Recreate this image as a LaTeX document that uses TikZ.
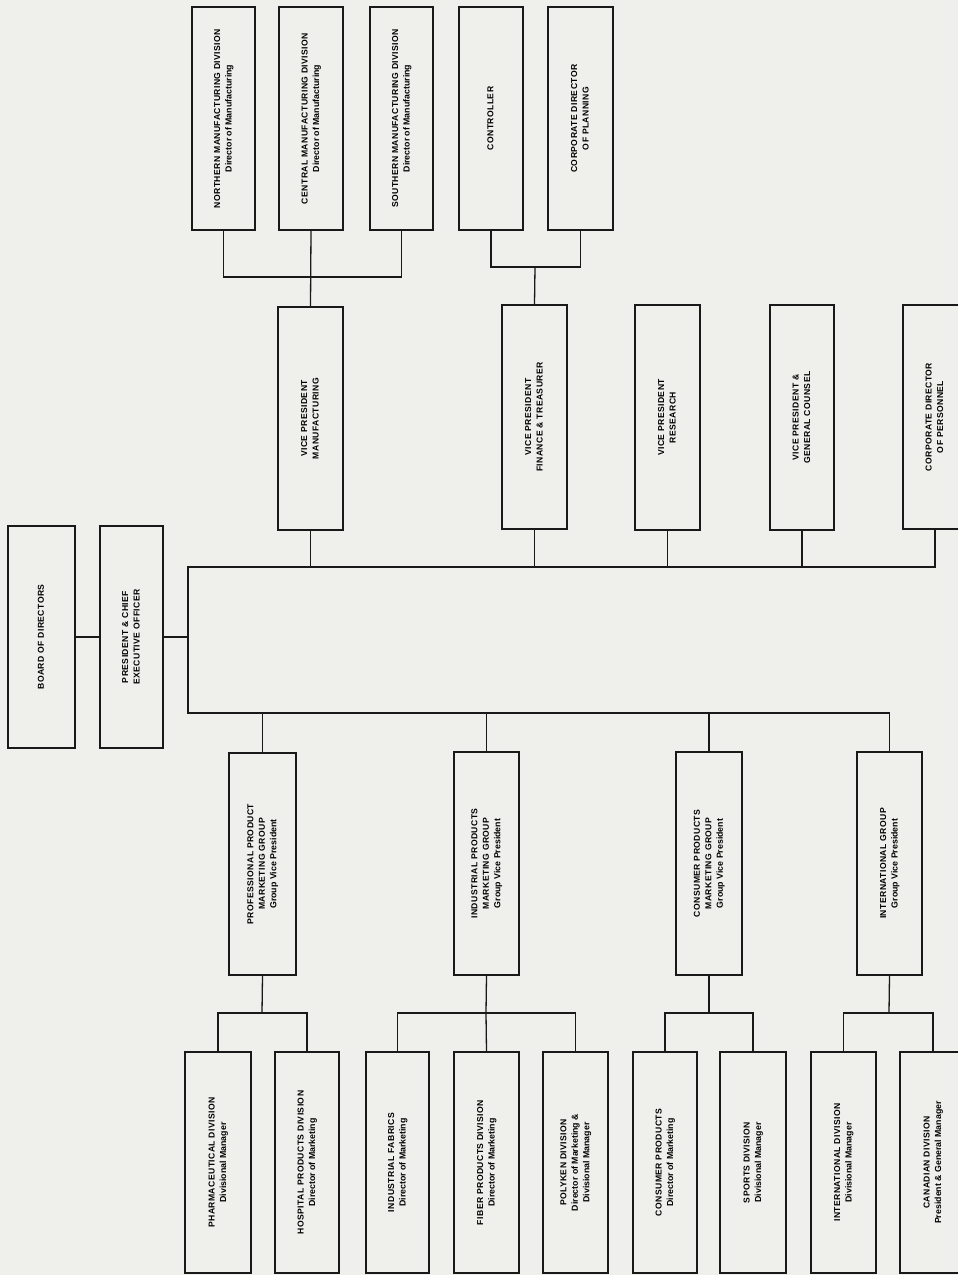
\documentclass[tikz,border=0pt]{standalone}
\usepackage{fontspec}
\setmainfont{Liberation Sans}
\newfontfamily\ttlfont{Liberation Sans}[LetterSpace=5]
\definecolor{paper}{RGB}{239,239,236}
\definecolor{ink}{RGB}{25,25,25}
\tikzset{
  orgbox/.style={draw=ink, line width=1.3pt, rectangle, inner sep=0pt},
  link/.style={draw=ink, line width=1.3pt},
}
\newcommand{\orgtext}[1]{\rotatebox{90}{\fontsize{8.6}{11.5}\selectfont\begin{tabular}{@{}c@{}}#1\end{tabular}}}
\newcommand{\Ttl}[1]{{\ttlfont\bfseries\fontsize{8.6}{11.5}\selectfont #1}}
\newcommand{\Sbt}[1]{{\bfseries\fontsize{8.8}{11.5}\selectfont #1}}
\newcommand{\bx}[6]{\node[orgbox, minimum width={(#4)-(#2)}, minimum height={(#5)-(#3)}] (#1) at ({((#2)+(#4))/2},{((#3)+(#5))/2}) {\orgtext{#6}};}
\begin{document}
\begin{tikzpicture}[x=1pt,y=-1pt]
\fill[paper] (0,0) rectangle (958,1275);
\useasboundingbox (0,0) rectangle (958,1275);

% left
\bx{board}{8}{526}{75}{748}{\Ttl{BOARD OF DIRECTORS}}
\bx{pres}{100}{526}{163}{748}{\Ttl{PRESIDENT \& CHIEF}\\\Ttl{EXECUTIVE OFFICER}}

% top row
\bx{nmd}{192}{7}{255}{230}{\Ttl{NORTHERN MANUFACTURING DIVISION}\\\Sbt{Director of Manufacturing}}
\bx{cmd}{279}{7}{343}{230}{\Ttl{CENTRAL MANUFACTURING DIVISION}\\\Sbt{Director of Manufacturing}}
\bx{smd}{370}{7}{433}{230}{\Ttl{SOUTHERN MANUFACTURING DIVISION}\\\Sbt{Director of Manufacturing}}
\bx{ctrl}{459}{7}{523}{230}{\Ttl{CONTROLLER}}
\bx{plan}{548}{7}{613}{230}{\Ttl{CORPORATE DIRECTOR}\\\Ttl{OF PLANNING}}

% VP row
\bx{vpm}{278}{307}{343}{530}{\Ttl{VICE PRESIDENT}\\\Ttl{MANUFACTURING}}
\bx{vpf}{502}{305}{567}{529}{\Ttl{VICE PRESIDENT}\\\Ttl{FINANCE \& TREASURER}}
\bx{vpr}{635}{305}{700}{530}{\Ttl{VICE PRESIDENT}\\\Ttl{RESEARCH}}
\bx{vpg}{770}{305}{834}{530}{\Ttl{VICE PRESIDENT \&}\\\Ttl{GENERAL COUNSEL}}
\bx{pers}{903}{305}{967}{529}{\Ttl{CORPORATE DIRECTOR}\\\Ttl{OF PERSONNEL}}

% group row
\bx{gprof}{229}{753}{296}{975}{\Ttl{PROFESSIONAL PRODUCT}\\\Ttl{MARKETING GROUP}\\\Sbt{Group Vice President}}
\bx{gind}{454}{752}{519}{975}{\Ttl{INDUSTRIAL PRODUCTS}\\\Ttl{MARKETING GROUP}\\\Sbt{Group Vice President}}
\bx{gcons}{676}{752}{742}{975}{\Ttl{CONSUMER PRODUCTS}\\\Ttl{MARKETING GROUP}\\\Sbt{Group Vice President}}
\bx{gintl}{857}{752}{922}{975}{\Ttl{INTERNATIONAL GROUP}\\\Sbt{Group Vice President}}

% bottom row
\bx{pharma}{185}{1052}{251}{1273}{\Ttl{PHARMACEUTICAL DIVISION}\\\Sbt{Divisional Manager}}
\bx{hosp}{275}{1052}{339}{1273}{\Ttl{HOSPITAL PRODUCTS DIVISION}\\\Sbt{Director of Marketing}}
\bx{fabr}{366}{1052}{429}{1273}{\Ttl{INDUSTRIAL FABRICS}\\\Sbt{Director of Marketing}}
\bx{fiber}{454}{1052}{519}{1273}{\Ttl{FIBER PRODUCTS DIVISION}\\\Sbt{Director of Marketing}}
\bx{poly}{543}{1052}{608}{1273}{\Ttl{POLYKEN DIVISION}\\\Sbt{Director of Marketing \&}\\\Sbt{Divisional Manager}}
\bx{consp}{633}{1052}{697}{1273}{\Ttl{CONSUMER PRODUCTS}\\\Sbt{Director of Marketing}}
\bx{sports}{720}{1052}{786}{1273}{\Ttl{SPORTS DIVISION}\\\Sbt{Divisional Manager}}
\bx{intld}{811}{1052}{876}{1273}{\Ttl{INTERNATIONAL DIVISION}\\\Sbt{Divisional Manager}}
\bx{canad}{900}{1052}{966}{1273}{\Ttl{CANADIAN DIVISION}\\\Sbt{President \& General Manager}}

% junction coordinates
\coordinate (sT) at (188,567);
\coordinate (sB) at (188,713);
\coordinate (jm) at (311,277);
\coordinate (jf) at (535,267);
\coordinate (jp) at (262,1013);
\coordinate (ji) at (486,1013);
\coordinate (jc) at (709,1013);
\coordinate (jn) at (889,1013);

% connectors
\draw[link] (board) -- (pres);
\draw[link] (pres.east) -- (pres.east -| sT);
\draw[link] (pers.south) |- (sT) -- (sB) -| (gintl.north);
\draw[link] (vpm.south) -- (vpm.south |- sT);
\draw[link] (vpf.south) -- (vpf.south |- sT);
\draw[link] (vpr.south) -- (vpr.south |- sT);
\draw[link] (vpg.south) -- (vpg.south |- sT);
\draw[link] (gprof.north) -- (gprof.north |- sB);
\draw[link] (gind.north) -- (gind.north |- sB);
\draw[link] (gcons.north) -- (gcons.north |- sB);

\draw[link] (nmd.south) |- (jm) -| (smd.south);
\draw[link] (cmd.south) -- (vpm.north);
\draw[link] (ctrl.south) |- (jf) -| (plan.south);
\draw[link] (jf) -- (vpf.north);

\draw[link] (gprof.south) -- (jp);
\draw[link] (pharma.north) |- (jp) -| (hosp.north);
\draw[link] (gind.south) -- (ji);
\draw[link] (fabr.north) |- (ji) -| (poly.north);
\draw[link] (ji) -- (fiber.north);
\draw[link] (gcons.south) -- (jc);
\draw[link] (consp.north) |- (jc) -| (sports.north);
\draw[link] (gintl.south) -- (jn);
\draw[link] (intld.north) |- (jn) -| (canad.north);
\end{tikzpicture}
\end{document}
